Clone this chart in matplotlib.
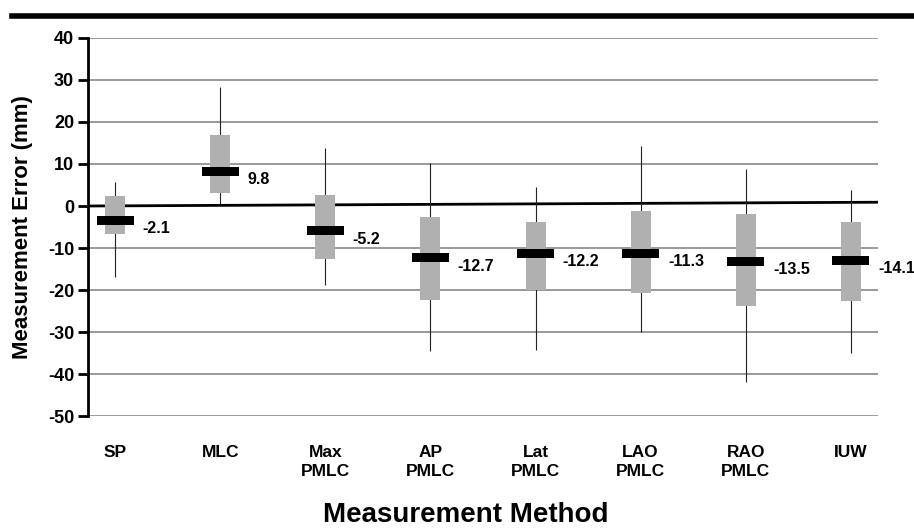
import matplotlib
import numpy as np

matplotlib.use("Agg")
import matplotlib.pyplot as plt  # noqa: E402
from matplotlib.lines import Line2D  # noqa: E402

plt.rcParams["font.family"] = ["Liberation Sans", "DejaVu Sans"]
plt.rcParams["font.weight"] = "bold"

# values (mm)
methods = ["SP", "MLC", "Max\nPMLC", "AP\nPMLC", "Lat\nPMLC", "LAO\nPMLC", "RAO\nPMLC", "IUW"]
whisker_hi = [5.8, 28.4, 13.9, 10.3, 4.6, 14.4, 8.7, 3.7]
box_hi = [2.3, 16.8, 2.7, -2.5, -3.7, -1.1, -1.8, -3.9]
median = [-3.4, 8.2, -5.9, -12.3, -11.3, -11.3, -13.2, -12.9]
box_lo = [-6.6, 3.2, -12.7, -22.3, -19.9, -20.6, -23.9, -22.7]
whisker_lo = [-17.0, 0.4, -18.7, -34.6, -34.4, -29.9, -42.0, -35.1]
mean_labels = ["-2.1", "9.8", "-5.2", "-12.7", "-12.2", "-11.3", "-13.5", "-14.1"]
y_ticks = [40, 30, 20, 10, 0, -10, -20, -30, -40, -50]

fig = plt.figure(figsize=(9.14, 5.32), dpi=100)
ax = fig.add_axes([0.0963, 0.218, 0.8643, 0.7106])

x = np.arange(len(methods))
box_w = 0.19
bar_w = 0.35

ax.vlines(x, whisker_lo, whisker_hi, color="#222222", lw=0.8, zorder=2)
ax.bar(x, np.array(box_hi) - np.array(box_lo), bottom=box_lo, width=box_w,
       color="#b0b0b0", zorder=3)
ax.bar(x, 2.1, bottom=np.array(median) - 1.05, width=bar_w, color="black", zorder=4)

for xi, m, lab in zip(x, median, mean_labels):
    ax.text(xi + 0.26, m - 2.0, lab, ha="left", va="center", fontsize=11.5,
            fontweight="bold", clip_on=False, zorder=5)

# zero line (slightly tilted in the scanned original)
ax.plot([-0.26, 7.26], [0, 0.9], color="black", lw=2, zorder=1)

ax.set_xlim(-0.26, 7.26)
ax.set_ylim(-50, 40)
ax.set_yticks(y_ticks)
ax.set_yticklabels([str(t) for t in y_ticks], fontsize=13, fontweight="bold")
ax.set_xticks(x)
ax.set_xticklabels(methods, fontsize=12.5, fontweight="bold", va="top", linespacing=1.35)
ax.tick_params(axis="x", length=0, pad=21)
ax.tick_params(axis="y", length=7, width=2, direction="out", pad=3)
for t in y_ticks:
    if t != 0:
        ax.axhline(t, color="#888888", lw=1.2, zorder=0)

for side in ["top", "right", "bottom"]:
    ax.spines[side].set_visible(False)
ax.spines["left"].set_linewidth(2)

ax.set_ylabel("Measurement Error (mm)", fontsize=16, fontweight="bold")
ax.yaxis.set_label_coords(-0.07, 0.5)
fig.text(0.51, 0.032, "Measurement Method", ha="center", va="center",
         fontsize=20, fontweight="bold")

# thick rule across the top of the figure
fig.add_artist(Line2D([0.013, 1.0], [0.97, 0.97], transform=fig.transFigure,
                      color="black", lw=4))

fig.savefig("out.png", dpi=100)
